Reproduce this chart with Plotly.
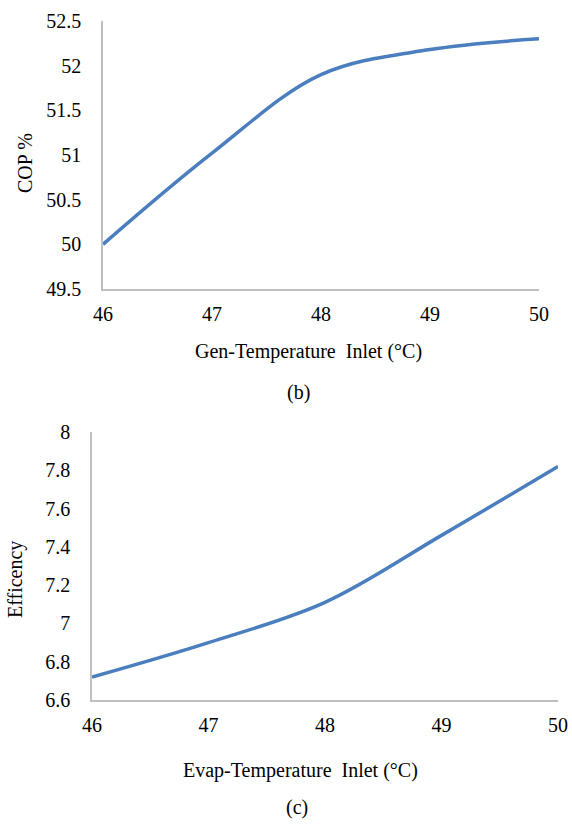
import plotly.graph_objects as go

# Data
gen_temp = [46, 47, 48, 49, 50]
cop = [50.0, 51.02, 51.9, 52.18, 52.3]

evap_temp = [46, 47, 48, 49, 50]
eff = [6.72, 6.9, 7.11, 7.46, 7.82]

W, H = 572, 825
FONT = "'Times New Roman', 'Liberation Serif', Times, serif"
LINE = "#4A7EBF"
AXIS = "#BFBFBF"

def px_x(x):
    return x / W

def px_y(y):
    return 1 - y / H

fig = go.Figure()
fig.add_trace(go.Scatter(x=gen_temp, y=cop, mode="lines",
                         line=dict(color=LINE, width=3.5, shape="spline", smoothing=1.0),
                         xaxis="x", yaxis="y", showlegend=False))
fig.add_trace(go.Scatter(x=evap_temp, y=eff, mode="lines",
                         line=dict(color=LINE, width=3.5, shape="spline", smoothing=1.0),
                         xaxis="x2", yaxis="y2", showlegend=False))

tfont = dict(family=FONT, size=20, color="#000000")
common_x = dict(showgrid=False, zeroline=False, showline=True, linecolor=AXIS, linewidth=1.5,
                ticks="outside", ticklen=6, tickcolor="rgba(0,0,0,0)", tickfont=tfont,
                automargin=False, tickmode="array", tickvals=[46, 47, 48, 49, 50])
common_y = dict(showgrid=False, zeroline=False, showline=True, linecolor=AXIS, linewidth=1.5,
                ticks="outside", ticklen=16, tickcolor="rgba(0,0,0,0)", tickfont=tfont,
                automargin=False)

fig.update_layout(
    template="none",
    width=W, height=H, margin=dict(l=0, r=0, t=0, b=0, pad=0),
    font=dict(family=FONT, size=20, color="#000000"),
    paper_bgcolor="white", plot_bgcolor="white",
    xaxis=dict(common_x, domain=[px_x(103), px_x(539)], range=[46, 50], anchor="y"),
    yaxis=dict(common_y, domain=[px_y(289), px_y(21)], range=[49.5, 52.5], dtick=0.5, anchor="x"),
    xaxis2=dict(common_x, domain=[px_x(92), px_x(558)], range=[46, 50], anchor="y2"),
    yaxis2=dict(common_y, domain=[px_y(700), px_y(432)], range=[6.6, 8.0], dtick=0.2, anchor="x2",
                tickformat="~g"),
)

def ann(text, x, y, angle=0):
    fig.add_annotation(text=text, x=px_x(x), y=px_y(y), xref="paper", yref="paper",
                       showarrow=False, textangle=angle, xanchor="center", yanchor="middle",
                       font=dict(family=FONT, size=20, color="#000000"))

ann("COP %", 25, 163, -90)
ann("Efficency", 15, 580, -90)
ann("Gen-Temperature\u00a0 Inlet (°C)", 308, 351)
ann("(b)", 298, 393)
ann("Evap-Temperature\u00a0 Inlet (°C)", 300, 770)
ann("(c)", 297, 807)

fig.write_html("out.html")
